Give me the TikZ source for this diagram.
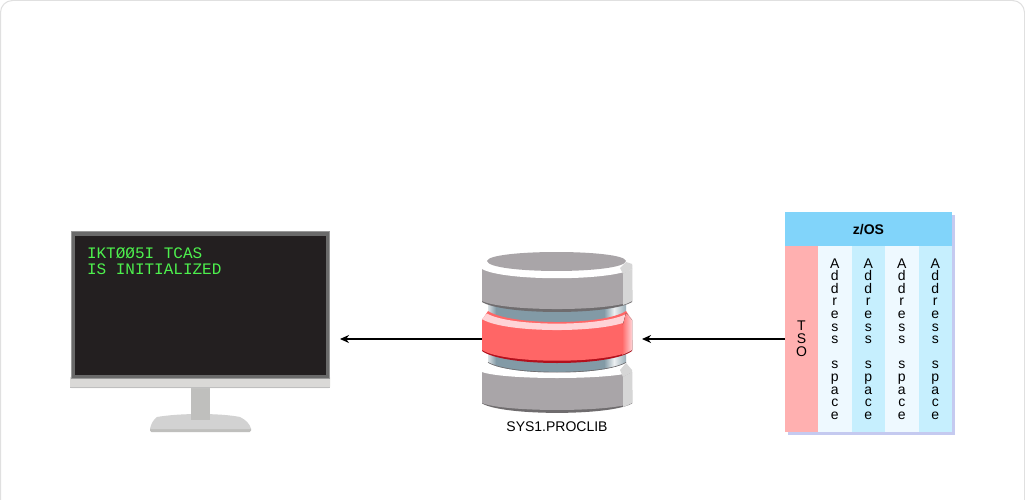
\documentclass[tikz,border=0pt]{standalone}
\usepackage{fontspec}
\setmainfont{Liberation Sans}
\newfontfamily\screenfont{Liberation Mono}
\usetikzlibrary{arrows.meta}

\definecolor{diskgray}{HTML}{A9A5A8}
\definecolor{diskdark}{HTML}{6F6C6E}
\definecolor{diskside}{HTML}{D6D6D6}
\definecolor{pipeblue}{HTML}{829AA6}
\definecolor{diskred}{HTML}{FF6666}
\definecolor{diskpink}{HTML}{FFD3D6}
\definecolor{darkred}{HTML}{B3101C}
\definecolor{screenblack}{HTML}{231F20}
\definecolor{bezel}{HTML}{6A6A6A}
\definecolor{standgray}{HTML}{BFBFBD}
\definecolor{footgray}{HTML}{D2D2D2}
\definecolor{stripgray}{HTML}{DAD9D7}
\definecolor{termgreen}{HTML}{4DF04D}
\definecolor{headblue}{HTML}{81D4FA}
\definecolor{tsopink}{HTML}{FFB0B0}
\definecolor{colpale}{HTML}{EEF9FF}
\definecolor{colblue}{HTML}{C6EFFE}
\definecolor{boxshadow}{HTML}{C5CAF0}

\tikzset{
    plainbox/.style={inner sep=0pt, outer sep=0pt, anchor=north west},
    addrtext/.style={align=center, font=\fontsize{14}{12.6}\selectfont},
    flow/.style={-{Stealth[length=9pt,width=8pt]}, line width=1.4pt}
}

\begin{document}
\begin{tikzpicture}[x=1pt, y=-1pt]
    \useasboundingbox (0,0) rectangle (1025,500);
    \clip (0,0) rectangle (1025,500);

    % Card
    \draw[rounded corners=12pt, draw=black!12, fill=white, line width=1pt] (0.5,0.5) rectangle (1024.5,530);

    % Monitor
    \fill[rounded corners=1.5pt, standgray] (150,427) rectangle (251,432);
    \fill[footgray] (150,429) .. controls (151,424) and (153,420) .. (157,417) .. controls (180,413) and (220,413) .. (240,417) .. controls (246,420) and (250,424) .. (251,429) -- cycle;
    \fill[standgray] (190.5,387) rectangle (209.5,420);
    \fill[stripgray, rounded corners=1.5pt] (70,376) rectangle (330,388);
    \fill[black!25] (70,386.8) rectangle (330,387.4);
    \node[plainbox, fill=bezel, draw=black!40, line width=0.6pt, minimum width=258pt, minimum height=147pt] (monitor) at (71,231) {};
    \fill[screenblack] (75,236) rectangle (326,375);
    \node[plainbox, align=left, text=termgreen, font=\screenfont\fontsize{16}{16}\selectfont] (message) at (87,247.5) {IKTØØ5I TCAS\\IS INITIALIZED};

    % Pipes between the disks
    \foreach \pipetop in {303,350} {
        \fill[pipeblue] (488,\pipetop) rectangle (626,\pipetop+24);
        \fill[left color=white!70!pipeblue, right color=pipeblue] (488,\pipetop) rectangle (496,\pipetop+24);
        \fill[left color=pipeblue, right color=white!85!pipeblue] (604,\pipetop) rectangle (614,\pipetop+24);
        \fill[left color=white!85!pipeblue, right color=pipeblue!80!white] (614,\pipetop) rectangle (626,\pipetop+24);
    }

    % Top disk
    \fill[diskdark] (482,290) -- (632,290) -- (632,302) .. controls (610,315.3) and (504,315.3) .. (482,302) -- cycle;
    \fill[diskgray] (482,265) -- (632,265) -- (632,301) .. controls (610,311.7) and (504,311.7) .. (482,301) -- cycle;
    \fill[diskside] (623,274) -- (632,268) -- (632,301) .. controls (629,303) and (626,304) .. (623,305) -- cycle;
    \fill[white] (482,264) .. controls (486,247) and (628,247) .. (632,264) -- (632,269) .. controls (610,281.3) and (504,281.3) .. (482,269) -- cycle;
    \fill[diskgray] (487,261) .. controls (489,249) and (624,249) .. (626,261) .. controls (624,274.3) and (489,274.3) .. (487,261) -- cycle;
    \fill[diskside] (620,268) -- (626,262) -- (632,264) -- (632,269) -- (623,274) -- cycle;

    % Red disk
    \fill[darkred] (482,340) -- (632,340) -- (632,351) .. controls (610,367) and (504,367) .. (482,351) -- cycle;
    \fill[diskred] (482,320) -- (488,311) .. controls (510,325.7) and (604,325.7) .. (626,311) -- (632,320) -- (632,350) .. controls (610,364.3) and (504,364.3) .. (482,350) -- cycle;
    \fill[diskpink] (482,319) -- (487,313.5) .. controls (510,327) and (604,327) .. (627,313.5) -- (632,319) .. controls (610,333.7) and (504,333.7) .. (482,319) -- cycle;
    \fill[left color=diskred, right color=diskpink] (622,328) -- (626,313) -- (632,320) -- (632,350) .. controls (629,352) and (625,354) .. (622,355) -- cycle;
    \node[inner sep=0pt] (proclib) at (557,339) {};
    \coordinate (proclibleft) at (482,339);
    \coordinate (proclibright) at (632,339);
    \node (proclib_label) at (557,427) {\fontsize{14}{14}\selectfont SYS1.PROCLIB};

    % Bottom disk
    \draw[diskdark, line width=0.8pt] (488,362.5) .. controls (510,375.5) and (604,375.5) .. (626,362.5);
    \fill[diskdark] (482,390) -- (632,390) -- (632,403.5) .. controls (610,416) and (504,416) .. (482,403.5) -- cycle;
    \fill[diskgray] (482,372) -- (632,372) -- (632,403) .. controls (610,412.3) and (504,412.3) .. (482,403) -- cycle;
    \fill[diskside] (623,377) -- (632,372) -- (632,403) .. controls (629,405) and (626,406) .. (623,407) -- cycle;
    \fill[white] (482,370) -- (488,363) .. controls (510,376) and (604,376) .. (626,363) -- (632,370) -- (632,372) .. controls (610,380) and (504,380) .. (482,372) -- cycle;
    \fill[diskside] (620,370) -- (626,363) -- (632,370) -- (632,372) -- (623,377) -- cycle;

    % z/OS block
    \fill[boxshadow] (788,215) rectangle (955,435);
    \node[plainbox, fill=headblue, minimum width=167pt, minimum height=35pt, font=\bfseries\fontsize{14}{14}\selectfont] (zos) at (785,212) {z/OS};
    \node[plainbox, fill=tsopink, minimum width=33pt, minimum height=186pt, addrtext, font=\fontsize{14}{13.2}\selectfont] (tso) at (785,246) {T\\S\\O};
    \foreach \i/\colx/\colfill in {1/818/colpale, 2/851.5/colblue, 3/885/colpale, 4/918.5/colblue} {
        \node[plainbox, fill=\colfill, minimum width=33.5pt, minimum height=186pt, addrtext] (addr\i) at (\colx,246)
            {A\\d\\d\\r\\e\\s\\s\\~\\s\\p\\a\\c\\e};
    }

    % Flow
    \draw[flow, shorten >=11pt] (proclibleft) -- (proclibleft -| monitor.east);
    \draw[flow, shorten >=10pt] (tso.west |- proclib) -- (proclibright);
\end{tikzpicture}
\end{document}
